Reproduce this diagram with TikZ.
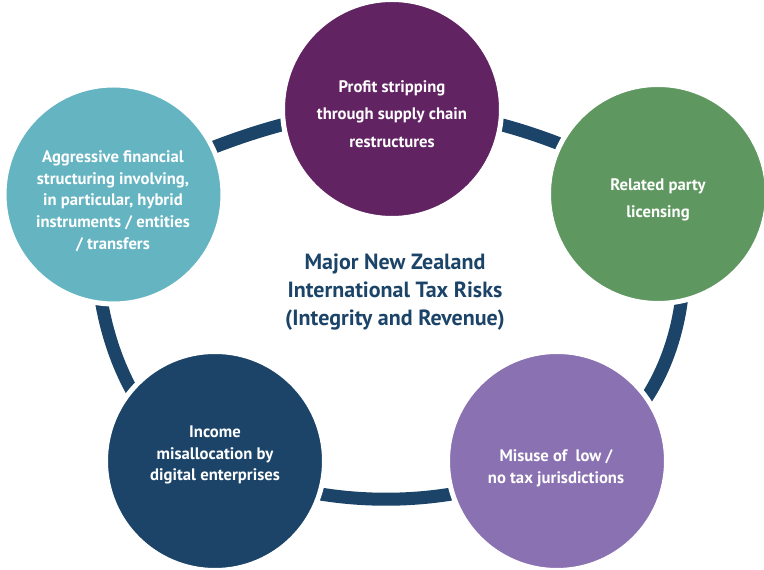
\documentclass[tikz,border=0pt]{standalone}
\usepackage{fontspec}
\setmainfont{PT Sans}
\usetikzlibrary{backgrounds}
\definecolor{cTop}{HTML}{622363}
\definecolor{cTeal}{HTML}{64B4C2}
\definecolor{cGreen}{HTML}{5F9760}
\definecolor{cNavy}{HTML}{1B4468}
\definecolor{cLilac}{HTML}{8A71B1}
\begin{document}
\begin{tikzpicture}[x=0.75pt,y=0.75pt,
  bubble/.style={circle, draw=white, line width=3.75pt, minimum size=164.25pt, inner sep=0pt},
  band/.style={draw=cNavy, line width=9.75pt},
  txt/.style={text=white, align=center, font=\bfseries\fontsize{12.5}{#1}\selectfont},
  heading/.style={text=cNavy, align=center, font=\bfseries\fontsize{16.5}{21}\selectfont}]
\useasboundingbox (0,0) rectangle (764,570);
% circles
\node[bubble, fill=cTop]   (T)  at (392,461)   {};
\node[bubble, fill=cTeal]  (L)  at (113.5,375.5) {};
\node[bubble, fill=cGreen] (R)  at (658,376)   {};
\node[bubble, fill=cNavy]  (BL) at (215,109)   {};
\node[bubble, fill=cLilac] (BR) at (557,109)   {};
% connectors
\begin{pgfonlayer}{background}
\draw[band] (T.center) .. controls +(-92,0) and +(81.5,45.5) .. (L.center);
\draw[band] (T.center) .. controls +(92,0) and +(-68,45) .. (R.center);
\draw[band] (R.center) .. controls +(54,-46) and +(123,21) .. (BR.center);
\draw[band] (BR.center) .. controls +(-104,-51) and +(104,-51) .. (BL.center);
\draw[band] (BL.center) .. controls +(-105,21) and +(-40.5,-45.5) .. (L.center);
\end{pgfonlayer}
% texts
\node[txt=20.6] (Tt) at (392,456) {Profit stripping\\through supply chain\\restructures};
\node[txt=16.3] (Lt) at (113,369) {Aggressive financial\\structuring involving,\\in particular, hybrid\\instruments / entities\\/ transfers};
\node[txt=20.25] (Rt) at (658,370) {Related party\\licensing};
\node[txt=16.1] (BLt) at (215,115) {Income\\misallocation by\\digital enterprises};
\node[txt=16.5] (BRt) at (556,102) {Misuse of\ \ low /\\no tax jurisdictions};
\node[heading] (title) at (395,278) {Major New Zealand\\International Tax Risks\\(Integrity and Revenue)};
\end{tikzpicture}
\end{document}
